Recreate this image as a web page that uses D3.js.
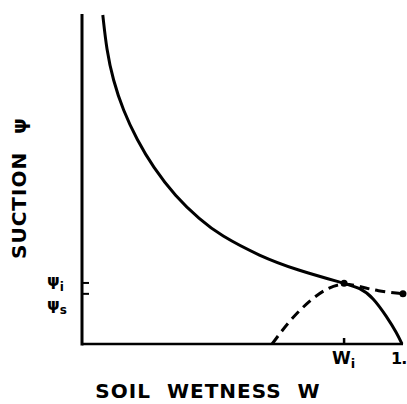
<!DOCTYPE html>
<html><head><meta charset="utf-8">
<script src="https://cdn.jsdelivr.net/npm/d3@7"></script>
<style>body{margin:0;background:#fff}svg{display:block}text{font-family:"DejaVu Sans",sans-serif;font-weight:bold;fill:#000}</style>
</head><body>
<script>
// Retention curve (solid): soil wetness W vs suction (normalized)
const solidW = [0.065,0.065,0.077,0.097,0.128,0.172,0.222,0.291,0.369,0.431,0.556,0.672,0.819,0.869,0.909,0.953,0.984,1.0,1.0];
const solidPsi = [0.997,0.997,0.891,0.80,0.709,0.618,0.536,0.448,0.376,0.330,0.266,0.224,0.184,0.170,0.142,0.082,0.033,0.0,0.0];
// Dashed curve
const dashW = [0.594,0.594,0.65,0.7125,0.766,0.819,0.869,0.922,1.003,1.003];
const dashPsi = [0.0,0.0,0.073,0.133,0.170,0.186,0.174,0.161,0.152,0.152];
const Wi = 0.819, psiI = 0.185, psiS = 0.152;
const xTickLabels = ["W","1."];
const yTickLabels = ["ψ","ψ"];

const svg = d3.select("body").append("svg").attr("width",407).attr("height",404);
const x = d3.scaleLinear().domain([0,1]).range([82,402]);
const y = d3.scaleLinear().domain([0,1]).range([344,14]);

// axes
svg.append("line").attr("x1",x(0)).attr("x2",x(0)).attr("y1",y(1)).attr("y2",y(0)+1.5).attr("stroke","#000").attr("stroke-width",3);
svg.append("line").attr("x1",x(0)).attr("x2",x(1)+1).attr("y1",y(0)).attr("y2",y(0)).attr("stroke","#000").attr("stroke-width",2.5);
// y ticks
[psiI,psiS].forEach(v=>svg.append("line").attr("x1",x(0)).attr("x2",x(0)+7).attr("y1",y(v)).attr("y2",y(v)).attr("stroke","#000").attr("stroke-width",2));
// x tick at Wi
svg.append("line").attr("x1",x(Wi)).attr("x2",x(Wi)).attr("y1",y(0)).attr("y2",y(0)-6).attr("stroke","#000").attr("stroke-width",2.5);

const line = d3.line().x((d)=>x(d[0])).y((d)=>y(d[1])).curve(d3.curveBasis);
svg.append("path").attr("d",line(solidW.map((w,i)=>[w,solidPsi[i]]))).attr("fill","none").attr("stroke","#000").attr("stroke-width",3);
svg.append("path").attr("d",line(dashW.map((w,i)=>[w,dashPsi[i]]))).attr("fill","none").attr("stroke","#000").attr("stroke-width",3).attr("stroke-dasharray","10,6");
svg.append("circle").attr("cx",x(Wi)).attr("cy",y(0.184)).attr("r",3.5);
svg.append("circle").attr("cx",x(dashW[dashW.length-1])).attr("cy",y(dashPsi[dashPsi.length-1])).attr("r",3.5);

// y tick labels
const yl1 = svg.append("text").attr("x",47).attr("y",y(psiI)+3).attr("font-size",16);
yl1.append("tspan").text(yTickLabels[0]);
yl1.append("tspan").attr("font-size",12).attr("dy",5).text("i");
const yl2 = svg.append("text").attr("x",47).attr("y",y(psiS)+16).attr("font-size",16);
yl2.append("tspan").text(yTickLabels[1]);
yl2.append("tspan").attr("font-size",12).attr("dy",4).text("s");

// x tick labels
const xl1 = svg.append("text").attr("x",x(Wi)-12).attr("y",364).attr("font-size",17);
xl1.append("tspan").text(xTickLabels[0]);
xl1.append("tspan").attr("font-size",13).attr("dy",4).text("i");
svg.append("text").attr("x",391).attr("y",364).attr("font-size",16).attr("letter-spacing",-1).text(xTickLabels[1]);

// axis titles
svg.append("text").attr("x",208).attr("y",398).attr("text-anchor","middle").attr("font-size",20).attr("letter-spacing",1).attr("word-spacing",8).text("SOIL WETNESS W");
svg.append("text").attr("transform","translate(26,188) rotate(-90)").attr("text-anchor","middle").attr("font-size",20).attr("letter-spacing",1).attr("word-spacing",10).text("SUCTION ψ");
</script>
</body></html>
